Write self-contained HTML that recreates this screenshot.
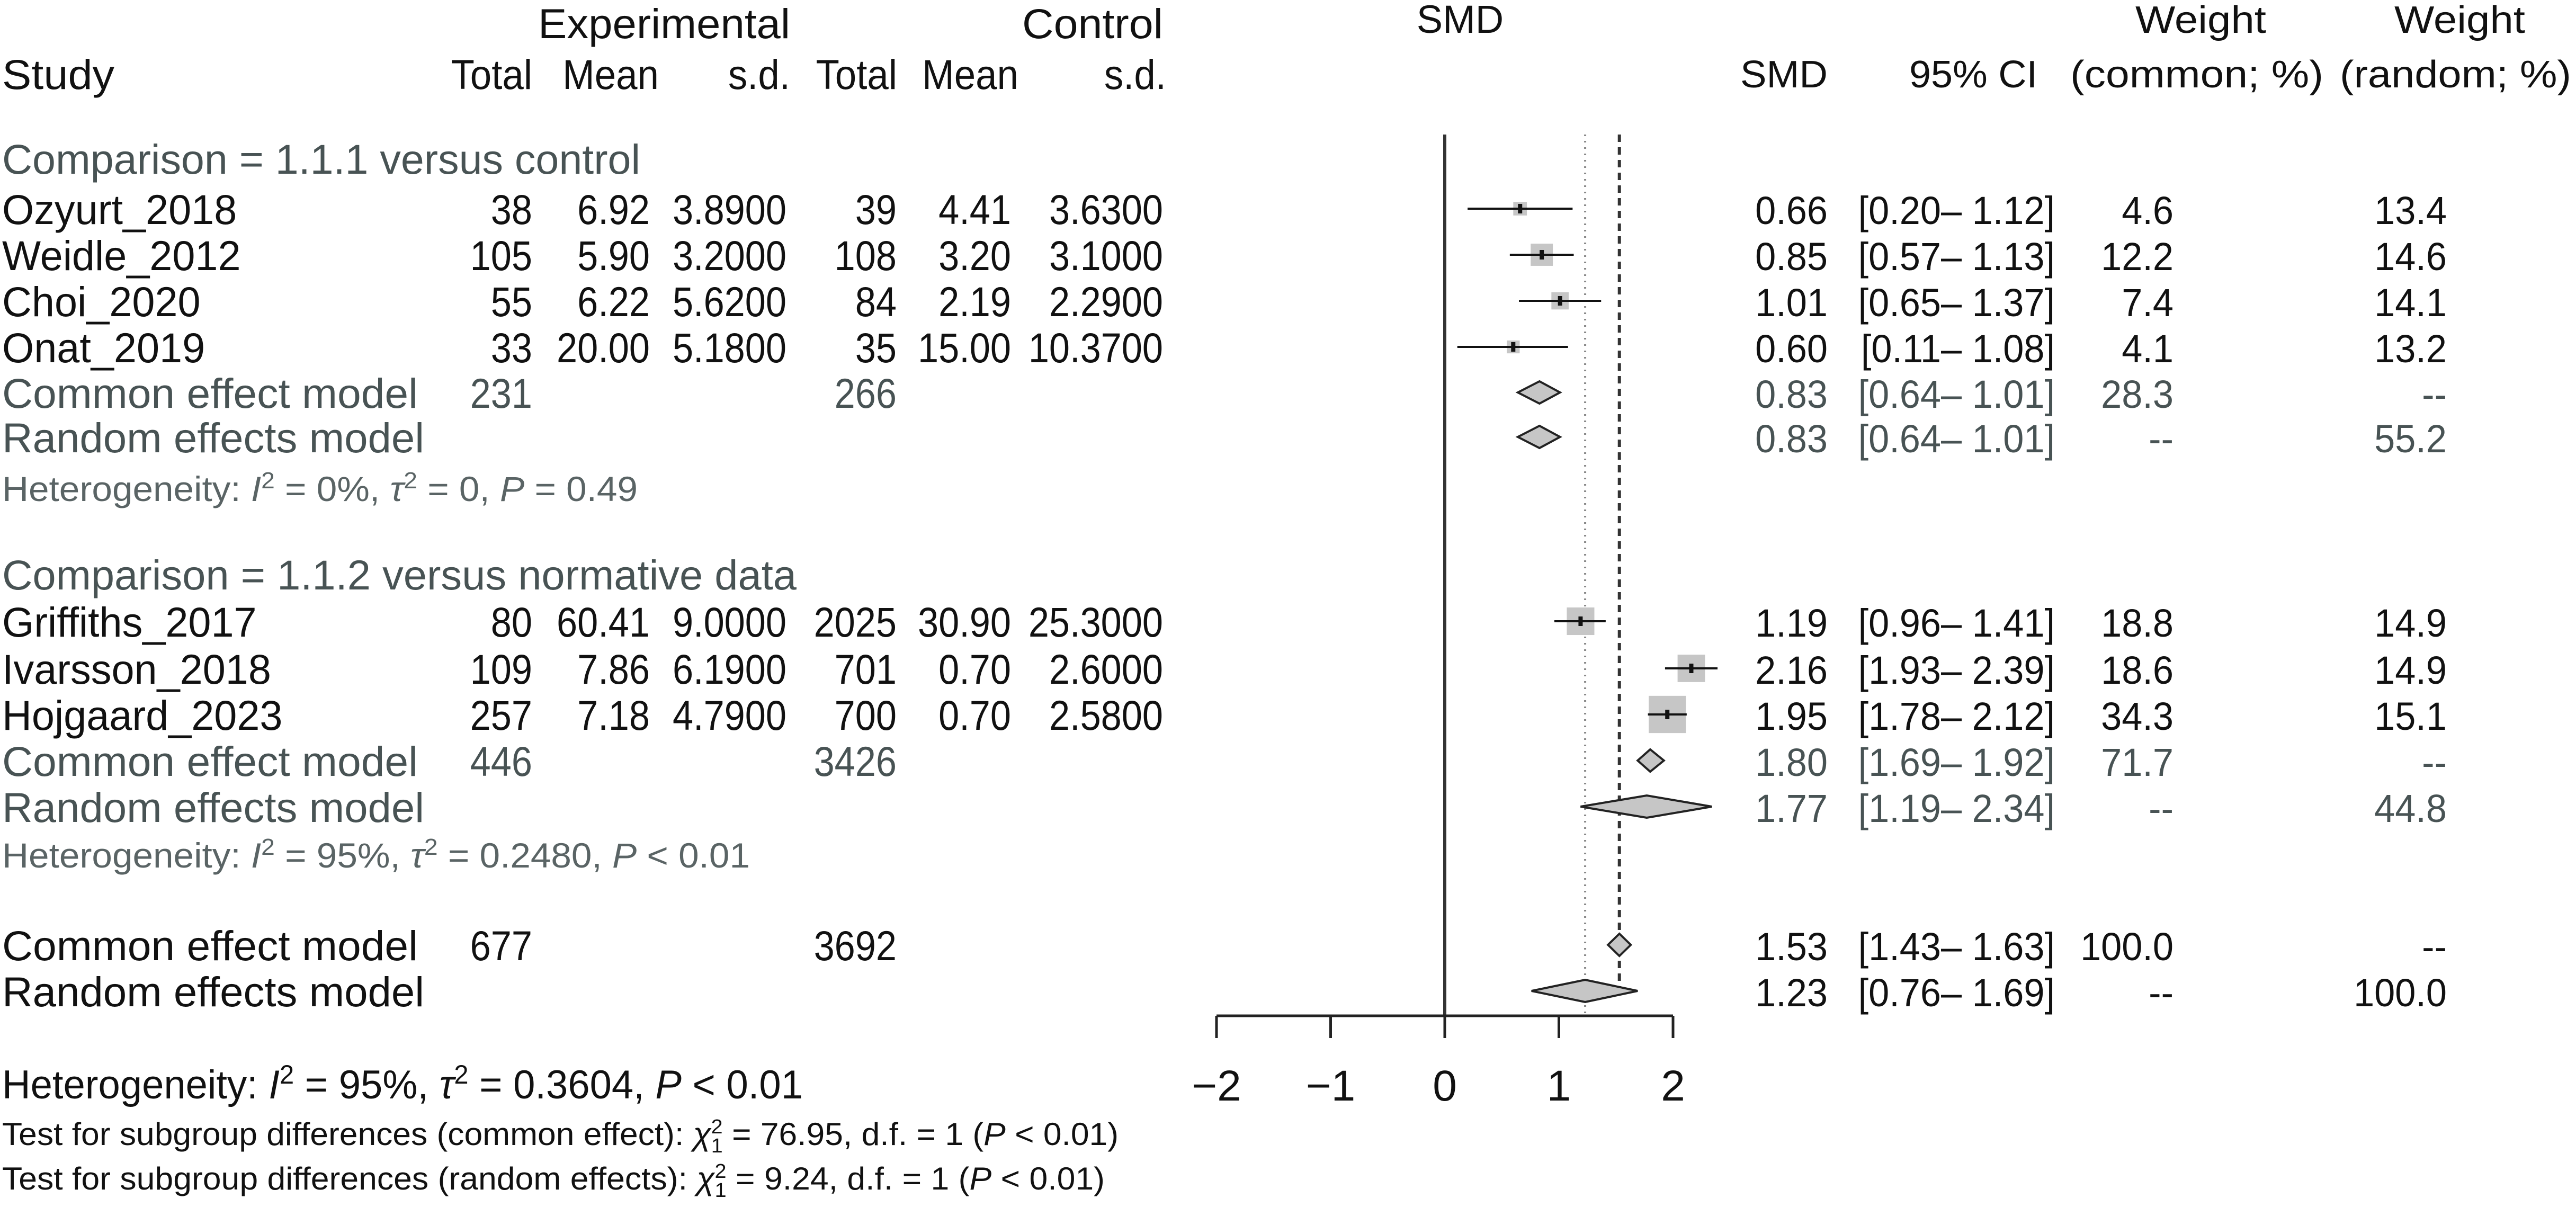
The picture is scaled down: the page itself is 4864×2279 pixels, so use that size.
<!DOCTYPE html>
<html><head><meta charset="utf-8"><style>
html,body{margin:0;padding:0;background:#fff;}
svg{display:block;font-family:"Liberation Sans",sans-serif;}
</style></head><body>
<svg id="chart" width="4864" height="2279" viewBox="0 0 4864 2279" xmlns="http://www.w3.org/2000/svg"></svg>
<script>
// ---- data ----
const studyNames = ["Ozyurt_2018","Weidle_2012","Choi_2020","Onat_2019","Griffiths_2017","Ivarsson_2018","Hojgaard_2023"];
const studyRowY = [394,481,568,655,1173,1262,1349];
const expTotal = ["38","105","55","33","80","109","257"];
const expMean = ["6.92","5.90","6.22","20.00","60.41","7.86","7.18"];
const expSD = ["3.8900","3.2000","5.6200","5.1800","9.0000","6.1900","4.7900"];
const ctlTotal = ["39","108","84","35","2025","701","700"];
const ctlMean = ["4.41","3.20","2.19","15.00","30.90","0.70","0.70"];
const ctlSD = ["3.6300","3.1000","2.2900","10.3700","25.3000","2.6000","2.5800"];
const smd = [0.66,0.85,1.01,0.60,1.19,2.16,1.95];
const ciLo = [0.20,0.57,0.65,0.11,0.96,1.93,1.78];
const ciHi = [1.12,1.13,1.37,1.08,1.41,2.39,2.12];
const wCommon = [4.6,12.2,7.4,4.1,18.8,18.6,34.3];
const wRandom = [13.4,14.6,14.1,13.2,14.9,14.9,15.1];

const sumNames = ["Common effect model","Random effects model","Common effect model","Random effects model","Common effect model","Random effects model"];
const sumRowY = [741,825,1436,1523,1784,1871];
const sumExpTotal = ["231","","446","","677",""];
const sumCtlTotal = ["266","","3426","","3692",""];
const sumEst = [0.83,0.83,1.80,1.77,1.53,1.23];
const sumLo = [0.64,0.64,1.69,1.19,1.43,0.76];
const sumHi = [1.01,1.01,1.92,2.34,1.63,1.69];
const sumWC = ["28.3","--","71.7","--","100.0","--"];
const sumWR = ["--","55.2","--","44.8","--","100.0"];
const sumOverall = [false,false,false,false,true,true];

const xTicks = [-2,-1,0,1,2];
const refCommon = 1.53, refRandom = 1.23;

// ---- helpers ----
const NS = "http://www.w3.org/2000/svg";
const svg = document.getElementById('chart');
const X0 = 2728, UNIT = 215.5;
function xs(v){ return X0 + v*UNIT; }
const GRAY = "#485354", LGRAY = "#5a6465";
const FS = 79;
const WC_X = 4104, WR_X = 4620;
function el(tag, attrs){ const e=document.createElementNS(NS,tag); for(const k in attrs) e.setAttribute(k,attrs[k]); svg.appendChild(e); return e; }
function txt(x,y,s,opt){
  opt=opt||{};
  const e=document.createElementNS(NS,'text');
  e.setAttribute('x',x); e.setAttribute('y',y);
  e.setAttribute('font-size',opt.size||FS);
  e.setAttribute('fill',opt.fill||'#111');
  e.setAttribute('text-anchor',opt.anchor||'start');
  if(opt.html) e.innerHTML=s; else e.textContent=s;
  svg.appendChild(e);
  let len=opt.len;
  if(!len && opt.squeeze){ try{ len=e.getComputedTextLength()*opt.squeeze; }catch(err){} }
  if(len){ e.setAttribute('textLength',len); e.setAttribute('lengthAdjust','spacingAndGlyphs'); }
  return e;
}
function fmt(v){ return v.toFixed(2); }
function ci(lo,hi){ return "["+fmt(lo)+"\u2013 "+fmt(hi)+"]"; }
const SQ = 0.89;

// ---- headers ----
let h;
h=txt(1016,72,"Experimental",{len:476});  
h=txt(1930,72,"Control",{len:266});  
h=txt(2757,62,"SMD",{anchor:'middle',size:74});  
h=txt(4,168,"Study",{len:212});  
const colHdr=[["Total",1005],["Mean",1244],["s.d.",1492],["Total",1694],["Mean",1923],["s.d.",2202]];
colHdr.forEach(c=>{ const e=txt(c[1],168,c[0],{anchor:'end',squeeze:0.92});   });
h=txt(3286,165,"SMD",{size:72,len:165});  
h=txt(3605,165,"95% CI",{size:72,len:242});  
h=txt(4032,62,"Weight",{size:72,len:247});  
h=txt(3909,165,"(common; %)",{size:72,len:478});  
h=txt(4521,62,"Weight",{size:72,len:247});  
h=txt(4418,165,"(random; %)",{size:72,len:437});  

h=txt(4,328,"Comparison = 1.1.1 versus control",{fill:GRAY,len:1205});  
h=txt(4,1113,"Comparison = 1.1.2 versus normative data",{fill:GRAY,len:1500});  

h=txt(4,946,'Heterogeneity: <tspan font-style="italic">I</tspan><tspan font-size="44" dy="-24">2</tspan><tspan dy="24"> = 0%, </tspan><tspan font-style="italic">τ</tspan><tspan font-size="44" dy="-24">2</tspan><tspan dy="24"> = 0, </tspan><tspan font-style="italic">P</tspan> = 0.49',{fill:LGRAY,size:66,html:true,len:1200});
 
h=txt(4,1638,'Heterogeneity: <tspan font-style="italic">I</tspan><tspan font-size="44" dy="-24">2</tspan><tspan dy="24"> = 95%, </tspan><tspan font-style="italic">τ</tspan><tspan font-size="44" dy="-24">2</tspan><tspan dy="24"> = 0.2480, </tspan><tspan font-style="italic">P</tspan> &lt; 0.01',{fill:LGRAY,size:66,html:true,len:1412});
 
h=txt(4,2074,'Heterogeneity: <tspan font-style="italic">I</tspan><tspan font-size="50" dy="-28">2</tspan><tspan dy="28"> = 95%, </tspan><tspan font-style="italic">τ</tspan><tspan font-size="50" dy="-28">2</tspan><tspan dy="28"> = 0.3604, </tspan><tspan font-style="italic">P</tspan> &lt; 0.01',{size:76,html:true,len:1512});
 
h=txt(4,2162,'Test for subgroup differences (common effect): <tspan font-style="italic">χ</tspan><tspan font-size="38" dy="-22">2</tspan><tspan font-size="38" dx="-21" dy="36">1</tspan><tspan dy="-14"> = 76.95, d.f. = 1 (</tspan><tspan font-style="italic">P</tspan> &lt; 0.01)',{size:60,html:true,len:2108});
 
h=txt(4,2246,'Test for subgroup differences (random effects): <tspan font-style="italic">χ</tspan><tspan font-size="38" dy="-22">2</tspan><tspan font-size="38" dx="-21" dy="36">1</tspan><tspan dy="-14"> = 9.24, d.f. = 1 (</tspan><tspan font-style="italic">P</tspan> &lt; 0.01)',{size:60,html:true,len:2082});
 

// ---- reference lines ----
const topY=254, axY=1918;
let l;
l=el('line',{x1:xs(0),x2:xs(0),y1:topY,y2:axY,stroke:'#333',"stroke-width":6});
 
l=el('line',{x1:xs(refRandom),x2:xs(refRandom),y1:topY,y2:axY,stroke:'#888',"stroke-width":4,"stroke-dasharray":"3 9"});
 
l=el('line',{x1:xs(refCommon),x2:xs(refCommon),y1:topY,y2:axY-40,stroke:'#333',"stroke-width":6,"stroke-dasharray":"14 10"});
 

// ---- axis ----
l=el('line',{x1:xs(xTicks[0]),x2:xs(xTicks[xTicks.length-1]),y1:axY,y2:axY,stroke:'#222',"stroke-width":5});
 
xTicks.forEach(t=>{
  const k=el('line',{x1:xs(t),x2:xs(t),y1:axY,y2:axY+42,stroke:'#222',"stroke-width":5});
   
  const lab=txt(xs(t),2078,t<0?"\u2212"+Math.abs(t):String(t),{anchor:'middle',size:82});
   
});

// ---- studies ----
studyNames.forEach((n,i)=>{
  const y=studyRowY[i], b=y+29;
  const nm=txt(4,b,n,{squeeze:0.98});  
  [[expTotal[i],1005],[expMean[i],1227],[expSD[i],1485],[ctlTotal[i],1693],[ctlMean[i],1909],[ctlSD[i],2196]].forEach(c=>{
    const e=txt(c[1],b,c[0],{anchor:'end',squeeze:SQ});  
  });
  const side=12*Math.sqrt(wCommon[i]);
  const sq=el('rect',{x:xs(smd[i])-side/2,y:y-side/2,width:side,height:side,fill:'#c6c6c6'});
   
  const cl=el('line',{x1:xs(ciLo[i]),x2:xs(ciHi[i]),y1:y,y2:y,stroke:'#111',"stroke-width":4});
   
  const pt=el('rect',{x:xs(smd[i])-4,y:y-9,width:8,height:18,fill:'#111'});
   
  const s1=txt(3451,b,fmt(smd[i]),{anchor:'end',size:74,squeeze:0.95});  
  const s2=txt(3880,b,ci(ciLo[i],ciHi[i]),{anchor:'end',size:74,squeeze:0.95});  
  const s3=txt(WC_X,b,wCommon[i].toFixed(1),{anchor:'end',size:74,squeeze:0.95});  
  const s4=txt(WR_X,b,wRandom[i].toFixed(1),{anchor:'end',size:74,squeeze:0.95});  
});

// ---- summaries ----
sumNames.forEach((n,i)=>{
  const y=sumRowY[i], b=y+29, c=sumOverall[i]?'#111':GRAY;
  const nm=txt(4,b,n,{fill:c,len:(n[0]==='C'?785:797)});  
  if(sumExpTotal[i]){ const e=txt(1005,b,sumExpTotal[i],{fill:c,anchor:'end',squeeze:SQ});   }
  if(sumCtlTotal[i]){ const e=txt(1693,b,sumCtlTotal[i],{fill:c,anchor:'end',squeeze:SQ});   }
  const hh=21;
  const d=el('polygon',{points:`${xs(sumLo[i])},${y} ${xs(sumEst[i])},${y-hh} ${xs(sumHi[i])},${y} ${xs(sumEst[i])},${y+hh}`,fill:'#c6c6c6',stroke:'#222',"stroke-width":4});
   
  const s1=txt(3451,b,fmt(sumEst[i]),{anchor:'end',size:74,fill:c,squeeze:0.95});  
  const s2=txt(3880,b,ci(sumLo[i],sumHi[i]),{anchor:'end',size:74,fill:c,squeeze:0.95});  
  const s3=txt(WC_X,b,sumWC[i],{anchor:'end',size:74,fill:c,squeeze:0.95});  
  const s4=txt(WR_X,b,sumWR[i],{anchor:'end',size:74,fill:c,squeeze:0.95});  
});
</script>
</body></html>
